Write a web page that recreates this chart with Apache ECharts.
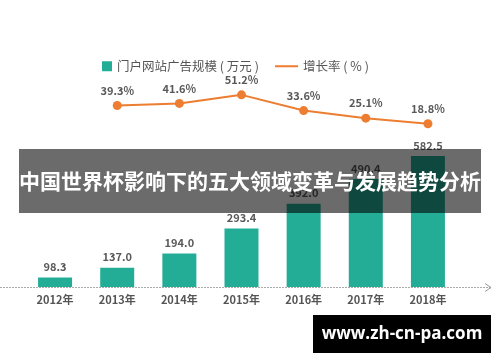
<!DOCTYPE html>
<html>
<head>
<meta charset="utf-8">
<script src="https://cdn.jsdelivr.net/npm/echarts@6/dist/echarts.min.js"></script>
<style>html,body{margin:0;padding:0;background:#fff}#c{width:500px;height:362px}</style>
</head>
<body>
<div id="c"></div>
<script>
var categories = ['2012年','2013年','2014年','2015年','2016年','2017年','2018年'];
var adScale = [98.3, 137.0, 194.0, 293.4, 392.0, 490.4, 582.5];
var growthRate = [null, 39.3, 41.6, 51.2, 33.6, 25.1, 18.8];
var barName = '门户网站广告规模 ( 万元 )';
var lineName = '增长率 ( % )';
var titleText = '中国世界杯影响下的五大领域变革与发展趋势分析';
var watermark = 'www.zh-cn-pa.com';

var FONT = '"Noto Sans CJK SC", "Noto Sans", sans-serif';
var chart = echarts.init(document.getElementById('c'), null, {renderer: 'canvas'});
chart.setOption({
  backgroundColor: '#fff',
  animation: false,
  textStyle: {fontFamily: FONT},
  legend: [
    {data: [{name: barName, icon: 'rect'}], left: 97, top: 55, itemWidth: 10, itemHeight: 10,
     textStyle: {fontSize: 12.5, color: '#555', fontFamily: FONT}},
    {data: [{name: lineName, icon: 'rect'}], left: 270, top: 55, itemWidth: 23, itemHeight: 2,
     textStyle: {fontSize: 12.5, color: '#555', fontFamily: FONT}}
  ],
  grid: [
    {left: 24, right: 41, top: 151.6, bottom: 75},
    {left: 24, right: 41, top: 87, bottom: 221.4}
  ],
  xAxis: [
    {type: 'category', gridIndex: 0, data: categories,
     axisLine: {show: false}, axisTick: {show: false},
     axisLabel: {fontSize: 11, color: '#555', fontWeight: 'bold', margin: 7, fontFamily: FONT}},
    {type: 'category', gridIndex: 1, data: categories, show: false}
  ],
  yAxis: [
    {type: 'value', gridIndex: 0, min: 60, max: 600, show: false, splitLine: {show: false}},
    {type: 'value', gridIndex: 1, min: 0, max: 60, show: false, splitLine: {show: false}}
  ],
  series: [
    {name: barName, type: 'bar', xAxisIndex: 0, yAxisIndex: 0, data: adScale,
     barWidth: 34, itemStyle: {color: '#24ad96'},
     label: {show: true, position: 'top', distance: 5, fontSize: 11, color: '#595959',
             fontWeight: 'bold', fontFamily: FONT, formatter: function(p){return p.value.toFixed(1);}}},
    {name: lineName, type: 'line', xAxisIndex: 1, yAxisIndex: 1, data: growthRate,
     symbol: 'circle', symbolSize: 9, connectNulls: false,
     lineStyle: {color: '#ed7d31', width: 2}, itemStyle: {color: '#ed7d31'},
     label: {show: true, position: 'top', distance: 5, fontSize: 11, color: '#595959',
             fontWeight: 'bold', fontFamily: FONT, formatter: function(p){return p.value.toFixed(1) + '%';}}}
  ],
  graphic: [
    {type: 'line', z: 50, shape: {x1: 0, y1: 287.5, x2: 490, y2: 287.5},
     style: {stroke: '#aaa', lineWidth: 1, lineDash: [2, 1]}},
    {type: 'polyline', z: 50, shape: {points: [[485, 283.5], [491, 287.5], [485, 291.5]]},
     style: {stroke: '#999', lineWidth: 1, fill: null}},
    {type: 'rect', z: 100, shape: {x: 19, y: 149, width: 462, height: 64},
     style: {fill: 'rgba(0,0,0,0.58)'}},
    {type: 'text', z: 101, x: 250, y: 181,
     style: {text: titleText, fill: '#fff', font: 'bold 21px "Noto Sans CJK SC", sans-serif',
             textAlign: 'center', textVerticalAlign: 'middle', align: 'center', verticalAlign: 'middle'}},
    {type: 'rect', z: 100, shape: {x: 313, y: 315, width: 178, height: 38},
     style: {fill: '#000'}},
    {type: 'text', z: 101, x: 402, y: 334,
     style: {text: watermark, fill: '#fff', font: 'bold 17px "Open Sans", sans-serif',
             textAlign: 'center', textVerticalAlign: 'middle', align: 'center', verticalAlign: 'middle'}}
  ]
});
</script>
</body>
</html>
